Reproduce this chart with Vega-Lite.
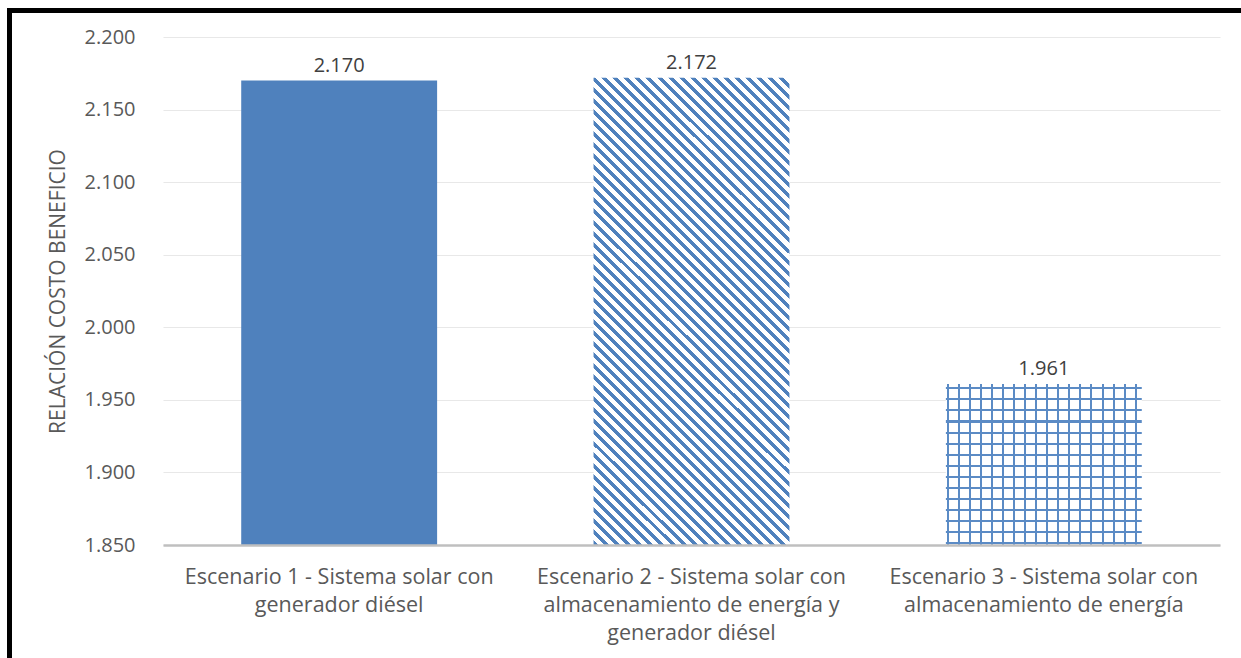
{
  "$schema": "https://vega.github.io/schema/vega-lite/v6.json",
  "width": 1057,
  "height": 508,
  "autosize": {"type": "none"},
  "padding": {"left": 163, "top": 37, "right": 21, "bottom": 113},
  "background": "white",
  "config": {"view": {"stroke": null}, "font": "Open Sans"},
  "layer": [
    {
      "data": {"values": [{"k": "marco"}]},
      "mark": {"type": "rect", "filled": false, "color": "black", "strokeWidth": 5},
      "encoding": {
        "x": {"datum": -153.5, "type": "quantitative", "scale": {"domain": [0, 1057], "nice": false, "zero": false}, "axis": null},
        "x2": {"datum": 1120},
        "y": {"datum": -26.5, "type": "quantitative", "scale": {"domain": [508, 0], "nice": false, "zero": false}, "axis": null},
        "y2": {"datum": 660}
      }
    },
    {
      "data": {"values": [
        {"id": 1, "escenario": "Escenario 1 - Sistema solar con|generador diésel", "valor": 2.170},
        {"id": 2, "escenario": "Escenario 2 - Sistema solar con|almacenamiento de energía y|generador diésel", "valor": 2.172},
        {"id": 3, "escenario": "Escenario 3 - Sistema solar con|almacenamiento de energía", "valor": 1.961}
      ]},
      "encoding": {
        "x": {
          "field": "escenario", "type": "nominal", "sort": null,
          "scale": {"paddingInner": 0.444, "paddingOuter": 0.222},
          "axis": {
            "title": null, "labelAngle": 0, "labelExpr": "split(datum.value, '|')",
            "labelLimit": 0, "labelFontSize": 21.5, "labelLineHeight": 28, "labelColor": "#595959",
            "labelPadding": 21, "ticks": false, "tickSize": 0,
            "domainColor": "#bfbfbf", "domainWidth": 2.5, "zindex": 1
          }
        },
        "y": {
          "field": "valor", "type": "quantitative",
          "scale": {"domain": [1.85, 2.2], "nice": false, "zero": false},
          "axis": {
            "title": "RELACIÓN COSTO BENEFICIO", "titleFontSize": 21, "titleFontWeight": "normal",
            "titleColor": "#595959", "titlePadding": 16,
            "values": [1.85, 1.9, 1.95, 2.0, 2.05, 2.1, 2.15, 2.2], "format": ".3f",
            "labelFontSize": 20, "labelColor": "#595959", "labelPadding": 28,
            "ticks": false, "tickSize": 0, "domain": false,
            "grid": true, "gridColor": "#e8e8e8", "gridWidth": 1.2
          }
        }
      },
      "layer": [
        {
          "transform": [{"filter": "datum.id == 1"}],
          "mark": {"type": "bar", "color": "#4f81bd"},
          "encoding": {"y2": {"datum": 1.85}}
        },
        {
          "transform": [{"filter": "datum.id == 2"}],
          "mark": {"type": "bar", "color": {"gradient": "linear", "x1": 0, "y1": 1, "x2": 0.5052, "y2": -0.2071, "stops": [
            {"offset": 0, "color": "#4f81bd"}, {"offset": 0.0075, "color": "#4f81bd"}, {"offset": 0.0075, "color": "#fff"},
            {"offset": 0.0167, "color": "#fff"}, {"offset": 0.0167, "color": "#4f81bd"}, {"offset": 0.0242, "color": "#4f81bd"}, {"offset": 0.0242, "color": "#fff"},
            {"offset": 0.0333, "color": "#fff"}, {"offset": 0.0333, "color": "#4f81bd"}, {"offset": 0.0408, "color": "#4f81bd"}, {"offset": 0.0408, "color": "#fff"},
            {"offset": 0.05, "color": "#fff"}, {"offset": 0.05, "color": "#4f81bd"}, {"offset": 0.0575, "color": "#4f81bd"}, {"offset": 0.0575, "color": "#fff"},
            {"offset": 0.0667, "color": "#fff"}, {"offset": 0.0667, "color": "#4f81bd"}, {"offset": 0.0742, "color": "#4f81bd"}, {"offset": 0.0742, "color": "#fff"},
            {"offset": 0.0833, "color": "#fff"}, {"offset": 0.0833, "color": "#4f81bd"}, {"offset": 0.0908, "color": "#4f81bd"}, {"offset": 0.0908, "color": "#fff"},
            {"offset": 0.1, "color": "#fff"}, {"offset": 0.1, "color": "#4f81bd"}, {"offset": 0.1075, "color": "#4f81bd"}, {"offset": 0.1075, "color": "#fff"},
            {"offset": 0.1167, "color": "#fff"}, {"offset": 0.1167, "color": "#4f81bd"}, {"offset": 0.1242, "color": "#4f81bd"}, {"offset": 0.1242, "color": "#fff"},
            {"offset": 0.1333, "color": "#fff"}, {"offset": 0.1333, "color": "#4f81bd"}, {"offset": 0.1408, "color": "#4f81bd"}, {"offset": 0.1408, "color": "#fff"},
            {"offset": 0.15, "color": "#fff"}, {"offset": 0.15, "color": "#4f81bd"}, {"offset": 0.1575, "color": "#4f81bd"}, {"offset": 0.1575, "color": "#fff"},
            {"offset": 0.1667, "color": "#fff"}, {"offset": 0.1667, "color": "#4f81bd"}, {"offset": 0.1742, "color": "#4f81bd"}, {"offset": 0.1742, "color": "#fff"},
            {"offset": 0.1833, "color": "#fff"}, {"offset": 0.1833, "color": "#4f81bd"}, {"offset": 0.1908, "color": "#4f81bd"}, {"offset": 0.1908, "color": "#fff"},
            {"offset": 0.2, "color": "#fff"}, {"offset": 0.2, "color": "#4f81bd"}, {"offset": 0.2075, "color": "#4f81bd"}, {"offset": 0.2075, "color": "#fff"},
            {"offset": 0.2167, "color": "#fff"}, {"offset": 0.2167, "color": "#4f81bd"}, {"offset": 0.2242, "color": "#4f81bd"}, {"offset": 0.2242, "color": "#fff"},
            {"offset": 0.2333, "color": "#fff"}, {"offset": 0.2333, "color": "#4f81bd"}, {"offset": 0.2408, "color": "#4f81bd"}, {"offset": 0.2408, "color": "#fff"},
            {"offset": 0.25, "color": "#fff"}, {"offset": 0.25, "color": "#4f81bd"}, {"offset": 0.2575, "color": "#4f81bd"}, {"offset": 0.2575, "color": "#fff"},
            {"offset": 0.2667, "color": "#fff"}, {"offset": 0.2667, "color": "#4f81bd"}, {"offset": 0.2742, "color": "#4f81bd"}, {"offset": 0.2742, "color": "#fff"},
            {"offset": 0.2833, "color": "#fff"}, {"offset": 0.2833, "color": "#4f81bd"}, {"offset": 0.2908, "color": "#4f81bd"}, {"offset": 0.2908, "color": "#fff"},
            {"offset": 0.3, "color": "#fff"}, {"offset": 0.3, "color": "#4f81bd"}, {"offset": 0.3075, "color": "#4f81bd"}, {"offset": 0.3075, "color": "#fff"},
            {"offset": 0.3167, "color": "#fff"}, {"offset": 0.3167, "color": "#4f81bd"}, {"offset": 0.3242, "color": "#4f81bd"}, {"offset": 0.3242, "color": "#fff"},
            {"offset": 0.3333, "color": "#fff"}, {"offset": 0.3333, "color": "#4f81bd"}, {"offset": 0.3408, "color": "#4f81bd"}, {"offset": 0.3408, "color": "#fff"},
            {"offset": 0.35, "color": "#fff"}, {"offset": 0.35, "color": "#4f81bd"}, {"offset": 0.3575, "color": "#4f81bd"}, {"offset": 0.3575, "color": "#fff"},
            {"offset": 0.3667, "color": "#fff"}, {"offset": 0.3667, "color": "#4f81bd"}, {"offset": 0.3742, "color": "#4f81bd"}, {"offset": 0.3742, "color": "#fff"},
            {"offset": 0.3833, "color": "#fff"}, {"offset": 0.3833, "color": "#4f81bd"}, {"offset": 0.3908, "color": "#4f81bd"}, {"offset": 0.3908, "color": "#fff"},
            {"offset": 0.4, "color": "#fff"}, {"offset": 0.4, "color": "#4f81bd"}, {"offset": 0.4075, "color": "#4f81bd"}, {"offset": 0.4075, "color": "#fff"},
            {"offset": 0.4167, "color": "#fff"}, {"offset": 0.4167, "color": "#4f81bd"}, {"offset": 0.4242, "color": "#4f81bd"}, {"offset": 0.4242, "color": "#fff"},
            {"offset": 0.4333, "color": "#fff"}, {"offset": 0.4333, "color": "#4f81bd"}, {"offset": 0.4408, "color": "#4f81bd"}, {"offset": 0.4408, "color": "#fff"},
            {"offset": 0.45, "color": "#fff"}, {"offset": 0.45, "color": "#4f81bd"}, {"offset": 0.4575, "color": "#4f81bd"}, {"offset": 0.4575, "color": "#fff"},
            {"offset": 0.4667, "color": "#fff"}, {"offset": 0.4667, "color": "#4f81bd"}, {"offset": 0.4742, "color": "#4f81bd"}, {"offset": 0.4742, "color": "#fff"},
            {"offset": 0.4833, "color": "#fff"}, {"offset": 0.4833, "color": "#4f81bd"}, {"offset": 0.4908, "color": "#4f81bd"}, {"offset": 0.4908, "color": "#fff"},
            {"offset": 0.5, "color": "#fff"}, {"offset": 0.5, "color": "#4f81bd"}, {"offset": 0.5075, "color": "#4f81bd"}, {"offset": 0.5075, "color": "#fff"},
            {"offset": 0.5167, "color": "#fff"}, {"offset": 0.5167, "color": "#4f81bd"}, {"offset": 0.5242, "color": "#4f81bd"}, {"offset": 0.5242, "color": "#fff"},
            {"offset": 0.5333, "color": "#fff"}, {"offset": 0.5333, "color": "#4f81bd"}, {"offset": 0.5408, "color": "#4f81bd"}, {"offset": 0.5408, "color": "#fff"},
            {"offset": 0.55, "color": "#fff"}, {"offset": 0.55, "color": "#4f81bd"}, {"offset": 0.5575, "color": "#4f81bd"}, {"offset": 0.5575, "color": "#fff"},
            {"offset": 0.5667, "color": "#fff"}, {"offset": 0.5667, "color": "#4f81bd"}, {"offset": 0.5742, "color": "#4f81bd"}, {"offset": 0.5742, "color": "#fff"},
            {"offset": 0.5833, "color": "#fff"}, {"offset": 0.5833, "color": "#4f81bd"}, {"offset": 0.5908, "color": "#4f81bd"}, {"offset": 0.5908, "color": "#fff"},
            {"offset": 0.6, "color": "#fff"}, {"offset": 0.6, "color": "#4f81bd"}, {"offset": 0.6075, "color": "#4f81bd"}, {"offset": 0.6075, "color": "#fff"},
            {"offset": 0.6167, "color": "#fff"}, {"offset": 0.6167, "color": "#4f81bd"}, {"offset": 0.6242, "color": "#4f81bd"}, {"offset": 0.6242, "color": "#fff"},
            {"offset": 0.6333, "color": "#fff"}, {"offset": 0.6333, "color": "#4f81bd"}, {"offset": 0.6408, "color": "#4f81bd"}, {"offset": 0.6408, "color": "#fff"},
            {"offset": 0.65, "color": "#fff"}, {"offset": 0.65, "color": "#4f81bd"}, {"offset": 0.6575, "color": "#4f81bd"}, {"offset": 0.6575, "color": "#fff"},
            {"offset": 0.6667, "color": "#fff"}, {"offset": 0.6667, "color": "#4f81bd"}, {"offset": 0.6742, "color": "#4f81bd"}, {"offset": 0.6742, "color": "#fff"},
            {"offset": 0.6833, "color": "#fff"}, {"offset": 0.6833, "color": "#4f81bd"}, {"offset": 0.6908, "color": "#4f81bd"}, {"offset": 0.6908, "color": "#fff"},
            {"offset": 0.7, "color": "#fff"}, {"offset": 0.7, "color": "#4f81bd"}, {"offset": 0.7075, "color": "#4f81bd"}, {"offset": 0.7075, "color": "#fff"},
            {"offset": 0.7167, "color": "#fff"}, {"offset": 0.7167, "color": "#4f81bd"}, {"offset": 0.7242, "color": "#4f81bd"}, {"offset": 0.7242, "color": "#fff"},
            {"offset": 0.7333, "color": "#fff"}, {"offset": 0.7333, "color": "#4f81bd"}, {"offset": 0.7408, "color": "#4f81bd"}, {"offset": 0.7408, "color": "#fff"},
            {"offset": 0.75, "color": "#fff"}, {"offset": 0.75, "color": "#4f81bd"}, {"offset": 0.7575, "color": "#4f81bd"}, {"offset": 0.7575, "color": "#fff"},
            {"offset": 0.7667, "color": "#fff"}, {"offset": 0.7667, "color": "#4f81bd"}, {"offset": 0.7742, "color": "#4f81bd"}, {"offset": 0.7742, "color": "#fff"},
            {"offset": 0.7833, "color": "#fff"}, {"offset": 0.7833, "color": "#4f81bd"}, {"offset": 0.7908, "color": "#4f81bd"}, {"offset": 0.7908, "color": "#fff"},
            {"offset": 0.8, "color": "#fff"}, {"offset": 0.8, "color": "#4f81bd"}, {"offset": 0.8075, "color": "#4f81bd"}, {"offset": 0.8075, "color": "#fff"},
            {"offset": 0.8167, "color": "#fff"}, {"offset": 0.8167, "color": "#4f81bd"}, {"offset": 0.8242, "color": "#4f81bd"}, {"offset": 0.8242, "color": "#fff"},
            {"offset": 0.8333, "color": "#fff"}, {"offset": 0.8333, "color": "#4f81bd"}, {"offset": 0.8408, "color": "#4f81bd"}, {"offset": 0.8408, "color": "#fff"},
            {"offset": 0.85, "color": "#fff"}, {"offset": 0.85, "color": "#4f81bd"}, {"offset": 0.8575, "color": "#4f81bd"}, {"offset": 0.8575, "color": "#fff"},
            {"offset": 0.8667, "color": "#fff"}, {"offset": 0.8667, "color": "#4f81bd"}, {"offset": 0.8742, "color": "#4f81bd"}, {"offset": 0.8742, "color": "#fff"},
            {"offset": 0.8833, "color": "#fff"}, {"offset": 0.8833, "color": "#4f81bd"}, {"offset": 0.8908, "color": "#4f81bd"}, {"offset": 0.8908, "color": "#fff"},
            {"offset": 0.9, "color": "#fff"}, {"offset": 0.9, "color": "#4f81bd"}, {"offset": 0.9075, "color": "#4f81bd"}, {"offset": 0.9075, "color": "#fff"},
            {"offset": 0.9167, "color": "#fff"}, {"offset": 0.9167, "color": "#4f81bd"}, {"offset": 0.9242, "color": "#4f81bd"}, {"offset": 0.9242, "color": "#fff"},
            {"offset": 0.9333, "color": "#fff"}, {"offset": 0.9333, "color": "#4f81bd"}, {"offset": 0.9408, "color": "#4f81bd"}, {"offset": 0.9408, "color": "#fff"},
            {"offset": 0.95, "color": "#fff"}, {"offset": 0.95, "color": "#4f81bd"}, {"offset": 0.9575, "color": "#4f81bd"}, {"offset": 0.9575, "color": "#fff"},
            {"offset": 0.9667, "color": "#fff"}, {"offset": 0.9667, "color": "#4f81bd"}, {"offset": 0.9742, "color": "#4f81bd"}, {"offset": 0.9742, "color": "#fff"},
            {"offset": 0.9833, "color": "#fff"}, {"offset": 0.9833, "color": "#4f81bd"}, {"offset": 0.9908, "color": "#4f81bd"}, {"offset": 0.9908, "color": "#fff"},
            {"offset": 1, "color": "#fff"}
          ]}},
          "encoding": {"y2": {"datum": 1.85}}
        },
        {
          "transform": [{"filter": "datum.id == 3"}],
          "mark": {"type": "bar", "color": {"gradient": "linear", "x1": 0, "y1": 0, "x2": 1, "y2": 0, "stops": [
            {"offset": 0, "color": "#fff"},
            {"offset": 0.005, "color": "#fff"}, {"offset": 0.005, "color": "#5b8bc5"}, {"offset": 0.0152, "color": "#5b8bc5"}, {"offset": 0.0152, "color": "#fff"},
            {"offset": 0.0614, "color": "#fff"}, {"offset": 0.0614, "color": "#5b8bc5"}, {"offset": 0.0716, "color": "#5b8bc5"}, {"offset": 0.0716, "color": "#fff"},
            {"offset": 0.1178, "color": "#fff"}, {"offset": 0.1178, "color": "#5b8bc5"}, {"offset": 0.128, "color": "#5b8bc5"}, {"offset": 0.128, "color": "#fff"},
            {"offset": 0.1742, "color": "#fff"}, {"offset": 0.1742, "color": "#5b8bc5"}, {"offset": 0.1844, "color": "#5b8bc5"}, {"offset": 0.1844, "color": "#fff"},
            {"offset": 0.2306, "color": "#fff"}, {"offset": 0.2306, "color": "#5b8bc5"}, {"offset": 0.2408, "color": "#5b8bc5"}, {"offset": 0.2408, "color": "#fff"},
            {"offset": 0.287, "color": "#fff"}, {"offset": 0.287, "color": "#5b8bc5"}, {"offset": 0.2972, "color": "#5b8bc5"}, {"offset": 0.2972, "color": "#fff"},
            {"offset": 0.3434, "color": "#fff"}, {"offset": 0.3434, "color": "#5b8bc5"}, {"offset": 0.3536, "color": "#5b8bc5"}, {"offset": 0.3536, "color": "#fff"},
            {"offset": 0.3998, "color": "#fff"}, {"offset": 0.3998, "color": "#5b8bc5"}, {"offset": 0.41, "color": "#5b8bc5"}, {"offset": 0.41, "color": "#fff"},
            {"offset": 0.4562, "color": "#fff"}, {"offset": 0.4562, "color": "#5b8bc5"}, {"offset": 0.4664, "color": "#5b8bc5"}, {"offset": 0.4664, "color": "#fff"},
            {"offset": 0.5126, "color": "#fff"}, {"offset": 0.5126, "color": "#5b8bc5"}, {"offset": 0.5228, "color": "#5b8bc5"}, {"offset": 0.5228, "color": "#fff"},
            {"offset": 0.569, "color": "#fff"}, {"offset": 0.569, "color": "#5b8bc5"}, {"offset": 0.5792, "color": "#5b8bc5"}, {"offset": 0.5792, "color": "#fff"},
            {"offset": 0.6254, "color": "#fff"}, {"offset": 0.6254, "color": "#5b8bc5"}, {"offset": 0.6356, "color": "#5b8bc5"}, {"offset": 0.6356, "color": "#fff"},
            {"offset": 0.6818, "color": "#fff"}, {"offset": 0.6818, "color": "#5b8bc5"}, {"offset": 0.692, "color": "#5b8bc5"}, {"offset": 0.692, "color": "#fff"},
            {"offset": 0.7382, "color": "#fff"}, {"offset": 0.7382, "color": "#5b8bc5"}, {"offset": 0.7484, "color": "#5b8bc5"}, {"offset": 0.7484, "color": "#fff"},
            {"offset": 0.7946, "color": "#fff"}, {"offset": 0.7946, "color": "#5b8bc5"}, {"offset": 0.8048, "color": "#5b8bc5"}, {"offset": 0.8048, "color": "#fff"},
            {"offset": 0.851, "color": "#fff"}, {"offset": 0.851, "color": "#5b8bc5"}, {"offset": 0.8612, "color": "#5b8bc5"}, {"offset": 0.8612, "color": "#fff"},
            {"offset": 0.9074, "color": "#fff"}, {"offset": 0.9074, "color": "#5b8bc5"}, {"offset": 0.9176, "color": "#5b8bc5"}, {"offset": 0.9176, "color": "#fff"},
            {"offset": 0.9638, "color": "#fff"}, {"offset": 0.9638, "color": "#5b8bc5"}, {"offset": 0.974, "color": "#5b8bc5"}, {"offset": 0.974, "color": "#fff"},
            {"offset": 1, "color": "#fff"}
          ]}},
          "encoding": {"y2": {"datum": 1.85}}
        },
        {
          "transform": [{"filter": "datum.id == 3"}],
          "mark": {"type": "bar", "color": {"gradient": "linear", "x1": 0, "y1": 0, "x2": 0, "y2": 1, "stops": [
            {"offset": 0, "color": "rgba(255,255,255,0)"},
            {"offset": 0.0211, "color": "rgba(255,255,255,0)"}, {"offset": 0.0211, "color": "#5b8bc5"}, {"offset": 0.0336, "color": "#5b8bc5"}, {"offset": 0.0336, "color": "rgba(255,255,255,0)"},
            {"offset": 0.0898, "color": "rgba(255,255,255,0)"}, {"offset": 0.0898, "color": "#5b8bc5"}, {"offset": 0.1023, "color": "#5b8bc5"}, {"offset": 0.1023, "color": "rgba(255,255,255,0)"},
            {"offset": 0.1585, "color": "rgba(255,255,255,0)"}, {"offset": 0.1585, "color": "#5b8bc5"}, {"offset": 0.171, "color": "#5b8bc5"}, {"offset": 0.171, "color": "rgba(255,255,255,0)"},
            {"offset": 0.2272, "color": "rgba(255,255,255,0)"}, {"offset": 0.2272, "color": "#5b8bc5"}, {"offset": 0.2397, "color": "#5b8bc5"}, {"offset": 0.2397, "color": "rgba(255,255,255,0)"},
            {"offset": 0.296, "color": "rgba(255,255,255,0)"}, {"offset": 0.296, "color": "#5b8bc5"}, {"offset": 0.3085, "color": "#5b8bc5"}, {"offset": 0.3085, "color": "rgba(255,255,255,0)"},
            {"offset": 0.3647, "color": "rgba(255,255,255,0)"}, {"offset": 0.3647, "color": "#5b8bc5"}, {"offset": 0.3772, "color": "#5b8bc5"}, {"offset": 0.3772, "color": "rgba(255,255,255,0)"},
            {"offset": 0.4334, "color": "rgba(255,255,255,0)"}, {"offset": 0.4334, "color": "#5b8bc5"}, {"offset": 0.4459, "color": "#5b8bc5"}, {"offset": 0.4459, "color": "rgba(255,255,255,0)"},
            {"offset": 0.5021, "color": "rgba(255,255,255,0)"}, {"offset": 0.5021, "color": "#5b8bc5"}, {"offset": 0.5146, "color": "#5b8bc5"}, {"offset": 0.5146, "color": "rgba(255,255,255,0)"},
            {"offset": 0.5709, "color": "rgba(255,255,255,0)"}, {"offset": 0.5709, "color": "#5b8bc5"}, {"offset": 0.5834, "color": "#5b8bc5"}, {"offset": 0.5834, "color": "rgba(255,255,255,0)"},
            {"offset": 0.6396, "color": "rgba(255,255,255,0)"}, {"offset": 0.6396, "color": "#5b8bc5"}, {"offset": 0.6521, "color": "#5b8bc5"}, {"offset": 0.6521, "color": "rgba(255,255,255,0)"},
            {"offset": 0.7083, "color": "rgba(255,255,255,0)"}, {"offset": 0.7083, "color": "#5b8bc5"}, {"offset": 0.7208, "color": "#5b8bc5"}, {"offset": 0.7208, "color": "rgba(255,255,255,0)"},
            {"offset": 0.777, "color": "rgba(255,255,255,0)"}, {"offset": 0.777, "color": "#5b8bc5"}, {"offset": 0.7895, "color": "#5b8bc5"}, {"offset": 0.7895, "color": "rgba(255,255,255,0)"},
            {"offset": 0.8458, "color": "rgba(255,255,255,0)"}, {"offset": 0.8458, "color": "#5b8bc5"}, {"offset": 0.8583, "color": "#5b8bc5"}, {"offset": 0.8583, "color": "rgba(255,255,255,0)"},
            {"offset": 0.9145, "color": "rgba(255,255,255,0)"}, {"offset": 0.9145, "color": "#5b8bc5"}, {"offset": 0.927, "color": "#5b8bc5"}, {"offset": 0.927, "color": "rgba(255,255,255,0)"},
            {"offset": 0.9832, "color": "rgba(255,255,255,0)"}, {"offset": 0.9832, "color": "#5b8bc5"}, {"offset": 0.9957, "color": "#5b8bc5"}, {"offset": 0.9957, "color": "rgba(255,255,255,0)"},
            {"offset": 1, "color": "rgba(255,255,255,0)"}
          ]}},
          "encoding": {"y2": {"datum": 1.85}}
        },
        {
          "mark": {"type": "text", "baseline": "alphabetic", "dy": -9, "fontSize": 20, "color": "#404040"},
          "encoding": {"text": {"field": "valor", "type": "quantitative", "format": ".3f"}}
        }
      ]
    }
  ],
  "resolve": {"scale": {"x": "independent", "y": "independent"}}
}
